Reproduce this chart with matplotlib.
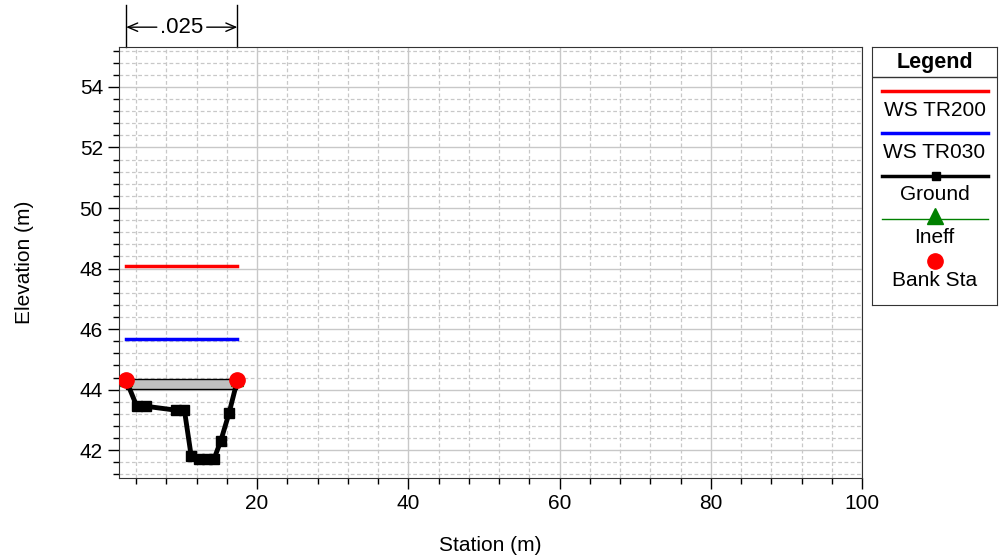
import matplotlib
matplotlib.use("Agg")
import matplotlib.pyplot as plt
from matplotlib.ticker import MultipleLocator

plt.rcParams['font.family'] = ['Liberation Sans', 'DejaVu Sans']

# ground profile
ground_sta = [2.7, 4.1, 5.3, 9.3, 10.4, 11.3, 12.3, 13.4, 14.3, 15.2, 16.3, 17.4]
ground_elev = [44.31, 43.45, 43.45, 43.32, 43.32, 41.80, 41.70, 41.70, 41.70, 42.30, 43.22, 44.31]
bank_sta = [2.7, 17.4]
bank_elev = [44.31, 44.31]
ineff_sta = [2.7, 17.4]
ineff_elev = [44.31, 44.31]
lid_top = 44.35
lid_bottom = 44.02
ws_tr200 = 48.07
ws_tr030 = 45.66
n_value = ".025"

fig = plt.figure(figsize=(10.08, 5.58), dpi=100)
ax = fig.add_axes([119/1008, 80/558, 743/1008, 431/558])

ax.fill_between(bank_sta, [lid_bottom]*2, [lid_top]*2, facecolor='#c0c0c0',
                edgecolor='black', lw=1, zorder=3)
ax.plot(bank_sta, [ws_tr200]*2, color='red', lw=2.5, zorder=4)
ax.plot(bank_sta, [ws_tr030]*2, color='blue', lw=2.5, zorder=4)
ax.plot(ground_sta, ground_elev, color='black', lw=3.5, marker='s', ms=7, zorder=5)
ax.plot(ineff_sta, ineff_elev, ls='none', marker='^', color='green', ms=9, zorder=6)
ax.plot(bank_sta, bank_elev, ls='none', marker='o', color='red', ms=11, zorder=7)

ax.set_xlim(1.75, 100)
ax.set_ylim(41.08, 55.32)
ax.xaxis.set_major_locator(MultipleLocator(20))
ax.xaxis.set_minor_locator(MultipleLocator(4))
ax.yaxis.set_major_locator(MultipleLocator(2))
ax.yaxis.set_minor_locator(MultipleLocator(0.4))
ax.grid(which='major', color='#c8c8c8', lw=1, ls='-')
ax.grid(which='minor', color='#c8c8c8', lw=0.9, ls=(0, (3, 2)))
ax.set_axisbelow(True)
ax.tick_params(which='major', direction='out', length=8, width=1, labelsize=15)
ax.tick_params(which='minor', direction='out', length=4, width=1)
for sp in ax.spines.values():
    sp.set_color('#333333')
ax.set_xlabel("Station (m)", fontsize=15)
ax.set_ylabel("Elevation (m)", fontsize=15)
ax.xaxis.set_label_coords(0.5, -0.135)
ax.yaxis.set_label_coords(-0.114, 0.5)

# n-value annotation above plot
tr = ax.get_xaxis_transform()
for s in bank_sta:
    ax.plot([s, s], [1.0, 1.098], transform=tr, color='black', lw=1, clip_on=False)
mid = (bank_sta[0] + bank_sta[1]) / 2
ax.text(mid, 1.046, n_value, transform=tr, ha='center', va='center', fontsize=16)
arrow = dict(arrowstyle='->, head_length=0.7, head_width=0.3', lw=1, color='black',
             shrinkA=0, shrinkB=0)
ax.annotate("", xy=(bank_sta[0], 1.046), xytext=(mid - 3.3, 1.046), xycoords=tr,
            textcoords=tr, arrowprops=arrow)
ax.annotate("", xy=(bank_sta[1], 1.046), xytext=(mid + 3.3, 1.046), xycoords=tr,
            textcoords=tr, arrowprops=arrow)

# legend box
lg = fig.add_axes([872/1008, 253/558, 125/1008, 258/558])
lg.set_xlim(872, 997)
lg.set_ylim(305, 47)
lg.set_xticks([])
lg.set_yticks([])
for sp in lg.spines.values():
    sp.set_color('#333333')
lg.axhline(77, color='#333333', lw=1)
lg.text(934.5, 62, "Legend", ha='center', va='center', fontsize=15.5, fontweight='bold')
lg.plot([882, 988], [90.5, 90.5], color='red', lw=2.5)
lg.text(934.5, 110, "WS TR200", ha='center', va='center', fontsize=15)
lg.plot([882, 988], [133, 133], color='blue', lw=2.5)
lg.text(934.5, 152, "WS TR030", ha='center', va='center', fontsize=15)
lg.plot([882, 988], [176, 176], color='black', lw=2.5)
lg.plot([936], [176], marker='s', color='black', ms=6)
lg.text(934.5, 194.5, "Ground", ha='center', va='center', fontsize=15)
lg.plot([882, 988], [218.5, 218.5], color='green', lw=1)
lg.plot([935], [216], marker='^', color='green', ms=11)
lg.text(934.5, 237, "Ineff", ha='center', va='center', fontsize=15)
lg.plot([935], [261], marker='o', color='red', ms=11)
lg.text(934.5, 280, "Bank Sta", ha='center', va='center', fontsize=15)

fig.savefig("out.png", dpi=100)
